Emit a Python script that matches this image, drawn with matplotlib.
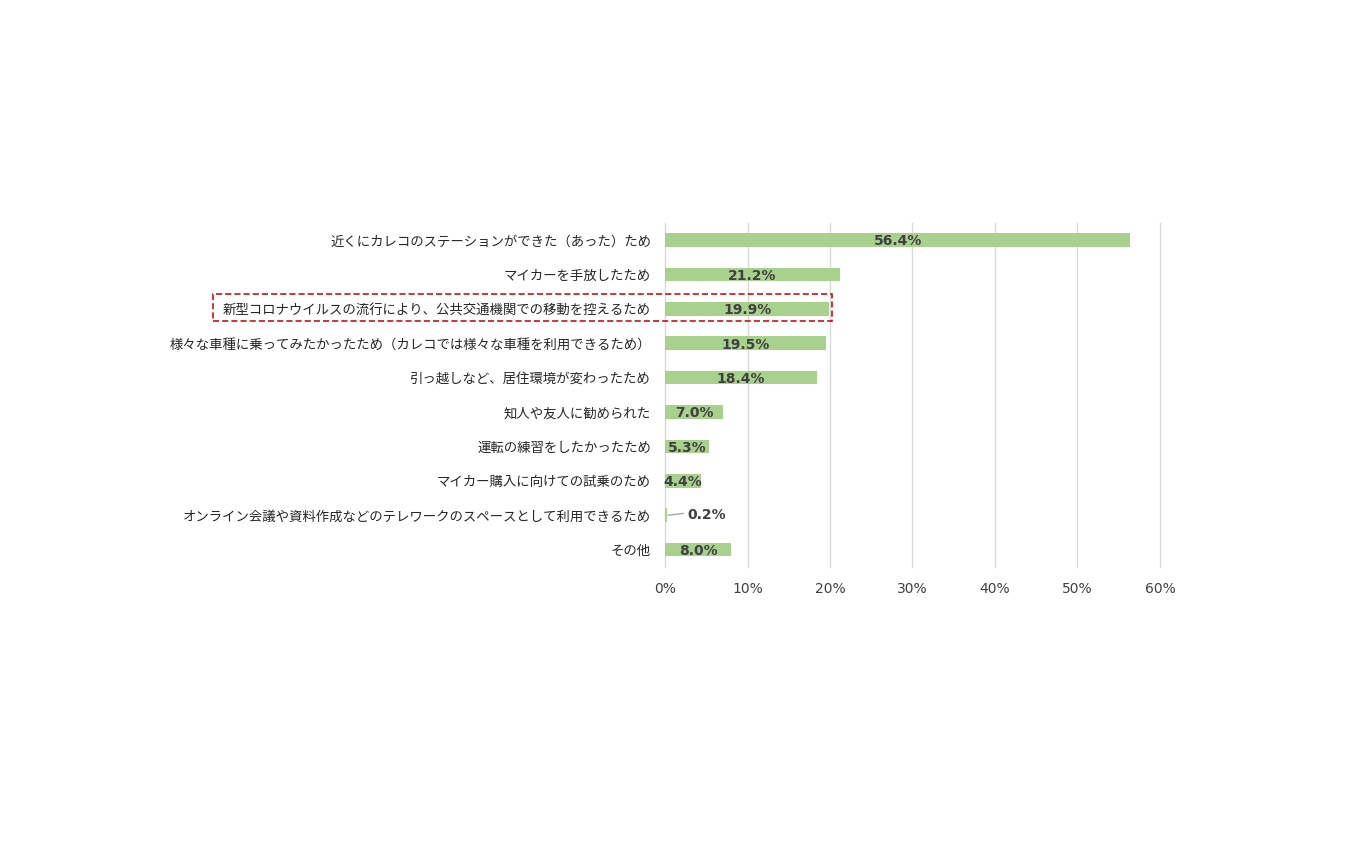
import matplotlib
matplotlib.use("Agg")
import matplotlib.pyplot as plt
from matplotlib.patches import Rectangle

plt.rcParams['font.family'] = ['Noto Sans CJK JP', 'DejaVu Sans']

categories = [
    "近くにカレコのステーションができた（あった）ため",
    "マイカーを手放したため",
    "新型コロナウイルスの流行により、公共交通機関での移動を控えるため",
    "様々な車種に乗ってみたかったため（カレコでは様々な車種を利用できるため）",
    "引っ越しなど、居住環境が変わったため",
    "知人や友人に勧められた",
    "運転の練習をしたかったため",
    "マイカー購入に向けての試乗のため",
    "オンライン会議や資料作成などのテレワークのスペースとして利用できるため",
    "その他",
]
values = [56.4, 21.2, 19.9, 19.5, 18.4, 7.0, 5.3, 4.4, 0.2, 8.0]
xticks = [0, 10, 20, 30, 40, 50, 60]

fig = plt.figure(figsize=(13.5, 8.44), dpi=100)
ax = fig.add_axes([665/1350, 1-566.8/844, 495/1350, 344/844])

y = list(range(len(categories)))
ax.barh(y, values, height=0.39, color="#A9D18E", zorder=2)
ax.set_ylim(len(categories)-0.5, -0.5)
ax.set_xlim(0, 60)
ax.set_xticks(xticks)
ax.set_xticklabels([f"{t}%" for t in xticks], fontsize=10, color="#404040",
                   family="DejaVu Sans")
ax.set_yticks(y)
ax.set_yticklabels(categories, fontsize=9.65, color="#262626")
ax.tick_params(length=0)
ax.tick_params(axis="y", pad=10)
ax.tick_params(axis="x", pad=11)
# 目盛り線（端の60%も見えるようにクリップしない）
ax.grid(axis="x", color="#D9D9D9", linewidth=1, zorder=0)
for gl in ax.get_xgridlines():
    gl.set_clip_on(False)
for s in ax.spines.values():
    s.set_visible(False)

for i, v in enumerate(values):
    if v < 1:
        ax.plot([v + 0.2, 2.2], [i, i - 0.05], color="#A6A6A6", lw=1, zorder=3)
        ax.text(2.7, i, f"{v:.1f}%", ha="left", va="center", fontsize=10,
                fontweight="bold", color="#404040", family="DejaVu Sans", zorder=4)
    else:
        ax.text(v / 2, i + 0.04, f"{v:.1f}%", ha="center", va="center", fontsize=10,
                fontweight="bold", color="#404040", family="DejaVu Sans", zorder=4)

# 赤い点線の枠
box = Rectangle((213/1350, 1-321/844), (832-213)/1350, 27/844, transform=fig.transFigure,
                fill=False, edgecolor="#C00000", linestyle=(0, (4, 2)), linewidth=1.1)
fig.patches.append(box)

fig.savefig("out.png", dpi=100, facecolor="white")
